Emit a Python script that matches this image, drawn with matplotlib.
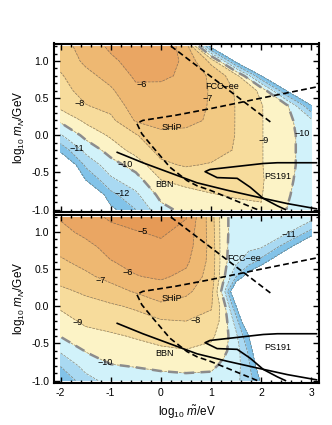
import numpy as np
import matplotlib
matplotlib.use("Agg")
import matplotlib.pyplot as plt
from matplotlib.colors import ListedColormap, BoundaryNorm
from matplotlib.ticker import MultipleLocator, FormatStrFormatter

plt.rcParams['font.family'] = ['Liberation Sans', 'DejaVu Sans']
plt.rcParams['mathtext.fontset'] = 'custom'
plt.rcParams['mathtext.rm'] = 'Liberation Sans'
plt.rcParams['mathtext.it'] = 'Liberation Sans:italic'

# grid nodes (log10 m~/eV, log10 mN/GeV)
top_x = [-2.0, -1.5, -1.0, -0.5, 0.0, 0.5, 1.0, 1.5, 2.0, 2.5, 3.0]
bottom_x = [-2.0, -1.5, -1.0, -0.5, 0.0, 0.5, 1.0, 1.25, 1.5, 1.75, 2.0, 2.5, 3.0]
y_nodes = [1.2, 1.0, 0.8, 0.6, 0.4, 0.2, 0.0, -0.2, -0.4, -0.6, -0.8, -1.0]

# log10 values (rows follow y_nodes, -15 = no solution)
top_vals = [
    [-7.4, -6.6, -5.8, -5.4, -5.4, -6.4, -13.5, -15, -15, -15, -15],
    [-7.7, -6.8, -6.2, -5.6, -5.5, -6.2, -8.3, -13.5, -15, -15, -15],
    [-8.1, -7.3, -6.65, -5.85, -5.8, -6.2, -7.2, -8.6, -13, -15, -15],
    [-8.4, -7.6, -7.15, -6.2, -6.3, -6.3, -7.1, -8.1, -9.2, -13, -15],
    [-8.7, -8.05, -7.65, -6.5, -6.6, -6.5, -7.1, -8.05, -8.95, -9.8, -13],
    [-9.8, -8.8, -8.25, -6.9, -6.85, -6.8, -7.1, -8.05, -8.95, -9.7, -10.8],
    [-11.1, -9.7, -8.85, -8.1, -7.1, -7.2, -7.2, -8.05, -8.95, -9.7, -10.5],
    [-12.7, -10.7, -9.6, -8.6, -7.7, -7.6, -7.5, -8.1, -8.95, -9.7, -10.5],
    [-15, -11.8, -10.4, -9.6, -8.2, -7.9, -8.1, -8.3, -8.95, -9.7, -10.5],
    [-15, -13, -11.2, -10.4, -9.0, -8.7, -8.6, -8.6, -8.9, -9.8, -10.5],
    [-15, -15, -12.3, -11.2, -9.7, -9.3, -9.05, -8.9, -8.95, -9.9, -10.5],
    [-15, -15, -13.3, -12.0, -10.3, -9.7, -9.4, -9.3, -9.05, -10.0, -10.5],
]

# log10 values
bottom_vals = [
    [-5.9, -5.4, -4.85, -4.6, -4.5, -4.95, -7.5, -9.7, -10.5, -10.5, -10.5, -10.6, -10.6],
    [-6.3, -5.75, -5.3, -5.05, -4.85, -5.3, -7.4, -9.7, -10.5, -10.6, -10.6, -10.8, -12.3],
    [-6.7, -6.3, -5.65, -5.4, -5.2, -5.5, -7.3, -9.7, -10.6, -10.8, -10.9, -12.5, -15],
    [-7.15, -6.7, -6.05, -5.7, -5.5, -5.8, -7.3, -9.7, -10.8, -11.5, -12.4, -15, -15],
    [-7.65, -7.2, -6.7, -6.05, -5.85, -6.25, -7.4, -9.8, -12.0, -13.8, -15, -15, -15],
    [-8.2, -7.85, -7.4, -6.9, -6.5, -6.8, -7.6, -10.6, -15, -15, -15, -15, -15],
    [-8.85, -8.35, -8.15, -7.85, -7.2, -7.4, -7.9, -9.5, -13.0, -15, -15, -15, -15],
    [-9.4, -8.8, -8.55, -8.4, -8.1, -8.0, -8.3, -9.4, -11.5, -15, -15, -15, -15],
    [-9.95, -9.35, -9.15, -8.9, -8.6, -8.55, -8.8, -9.5, -10.8, -13.0, -15, -15, -15],
    [-10.85, -9.95, -9.55, -9.4, -9.2, -9.05, -9.3, -9.8, -10.5, -12.2, -15, -15, -15],
    [-11.95, -10.6, -10.05, -9.95, -9.8, -9.7, -9.8, -10.2, -10.6, -11.8, -14, -15, -15],
    [-12.9, -11.4, -10.6, -10.4, -10.35, -10.3, -10.3, -10.5, -10.8, -11.5, -13.2, -15, -15],
]

# experimental curves
ship_x = [1.92, 1.38, 0.98, 0.72, 0.52, 0.18, -0.16, -0.38, -0.48, -0.36, 0.3, 1.0, 2.0, 3.1]
ship_y = [-1.0, -0.85, -0.74, -0.68, -0.61, -0.43, -0.16, 0.02, 0.16, 0.2, 0.27, 0.36, 0.5, 0.65]
fcc_x = [0.2, 2.2]
fcc_y = [1.2, 0.17]
bbn_x = [-0.87, -0.36, 0.32, 0.72, 1.32, 1.98, 2.52, 3.1]
bbn_y = [-0.23, -0.37, -0.54, -0.64, -0.74, -0.84, -0.92, -0.99]
ps_x = [3.1, 2.32, 2.04, 0.98, 0.88, 1.12, 1.52, 1.78, 2.04, 2.32, 2.48]
ps_y = [-0.37, -0.37, -0.38, -0.46, -0.49, -0.57, -0.58, -0.70, -0.85, -0.95, -1.0]

# contour labels: (value, x, y)
top_labels = [(-6, -0.38, 0.68), (-7, 0.94, 0.5), (-8, -1.61, 0.43), (-9, 2.04, -0.07),
              (-10, 2.82, 0.03), (-10, -0.72, -0.4), (-11, -1.67, -0.18), (-12, -0.78, -0.78)]
bottom_labels = [(-5, -0.36, 1.0), (-6, -0.66, 0.46), (-7, -1.21, 0.35), (-8, 0.7, -0.19),
                 (-9, -1.65, -0.22), (-10, -1.12, -0.76), (-11, 2.54, 0.96)]
top_names = [("SHiP", 0.22, 0.11), ("FCC\u2212ee", 1.22, 0.65), ("BBN", 0.08, -0.66), ("PS191", 2.32, -0.55)]
bottom_names = [("SHiP", 0.22, 0.11), ("FCC\u2212ee", 1.66, 0.64), ("BBN", 0.08, -0.64), ("PS191", 2.32, -0.55)]

levels = [-16, -13, -12, -11, -10, -9, -8, -7, -6, -5, -4]
band_colors = ['#ffffff', '#82c3e9', '#a9d9f2', '#d1f2fa', '#fcf3c6', '#f7dc9c',
               '#f2c983', '#eeb872', '#eaa663', '#e69a56']
cmap = ListedColormap(band_colors)
norm = BoundaryNorm(levels, cmap.N)

fig = plt.figure(figsize=(3.32, 4.25), dpi=100)
ax1 = fig.add_axes([54 / 332, 1 - 212 / 425, 265 / 332, 168.5 / 425])
ax2 = fig.add_axes([54 / 332, 1 - 383 / 425, 265 / 332, 168.5 / 425])

for ax, xs, vals, labs, names in [(ax1, top_x, top_vals, top_labels, top_names),
                                  (ax2, bottom_x, bottom_vals, bottom_labels, bottom_names)]:
    X, Y = np.meshgrid(xs, y_nodes)
    Z = np.array(vals)
    ax.contourf(X, Y, Z, levels=levels, cmap=cmap, norm=norm)
    ax.contour(X, Y, Z, levels=levels[1:-1], colors='#6f6a5c', linewidths=0.5, alpha=0.8)
    ax.contour(X, Y, Z, levels=[-10], colors='#8c8c8c', linewidths=1.8,
               linestyles=[(0, (4, 2.5))])
    ax.plot(ship_x, ship_y, color='k', lw=1.2, ls=(0, (3.5, 2)))
    ax.plot(fcc_x, fcc_y, color='k', lw=1.2, ls=(0, (3.5, 2)))
    ax.plot(bbn_x, bbn_y, color='k', lw=1.2)
    ax.plot(ps_x, ps_y, color='k', lw=1.2)
    for v, lx, ly in labs:
        ax.text(lx, ly, "\u2212%d" % abs(v), fontsize=6.5, ha='center', va='center')
    for s, lx, ly in names:
        ax.text(lx, ly, s, fontsize=6.5, ha='center', va='center')

    ax.set_xlim(-2.13, 3.15)
    ax.set_ylim(-1.033, 1.235)
    ax.xaxis.set_major_locator(MultipleLocator(1))
    ax.xaxis.set_minor_locator(MultipleLocator(0.2))
    ax.yaxis.set_major_locator(MultipleLocator(0.5))
    ax.yaxis.set_minor_locator(MultipleLocator(0.1))
    ax.tick_params(which='both', direction='in', top=True, right=True, width=1, labelsize=7.5)
    ax.tick_params(which='major', length=4)
    ax.tick_params(which='minor', length=2.5)
    for sp in ax.spines.values():
        sp.set_linewidth(1.5)
    ax.set_ylabel(r'log$_{10}$ $m_N$/GeV', fontsize=8.5, labelpad=3)
    ax.yaxis.set_major_formatter(FormatStrFormatter('%.1f'))

ax1.tick_params(labelbottom=False)
ax2.xaxis.set_major_formatter(FormatStrFormatter('%d'))
ax2.set_xlabel(r'log$_{10}$ $\tilde{m}$/eV', fontsize=8.5)

fig.savefig("out.png", dpi=100)
